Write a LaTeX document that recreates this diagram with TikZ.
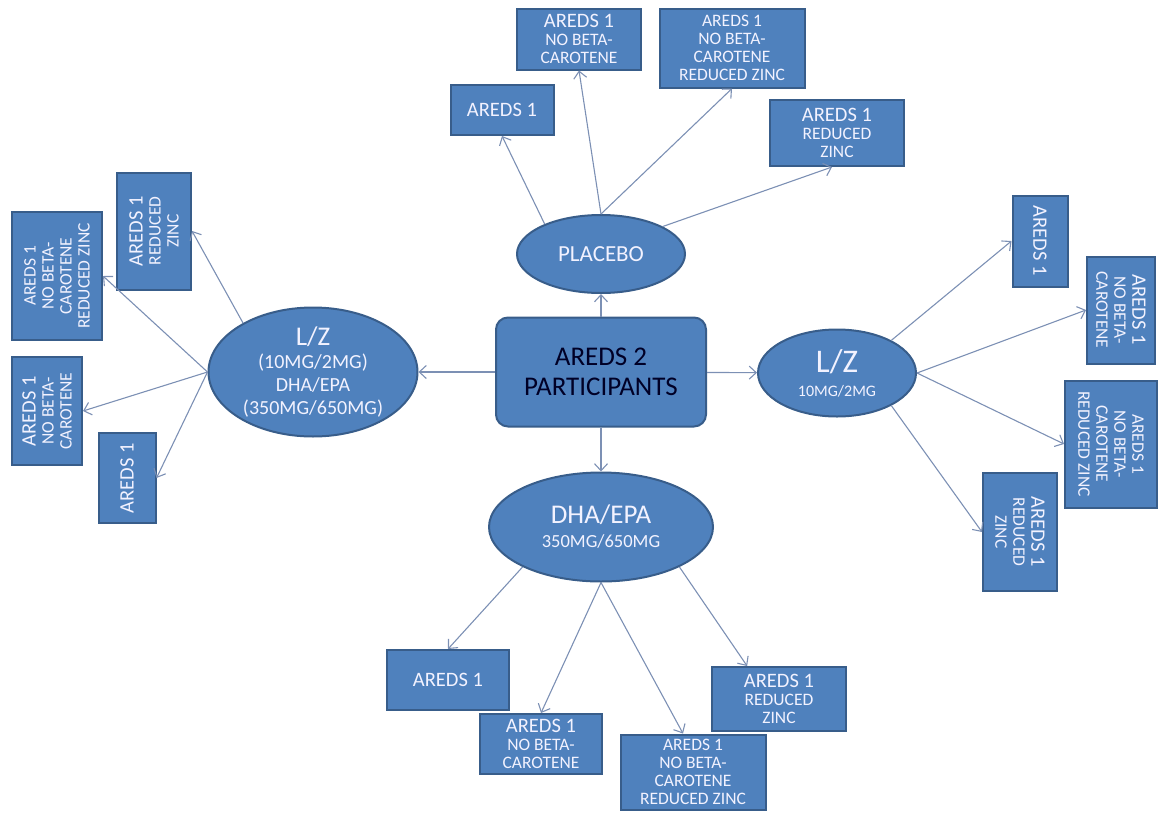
\documentclass[tikz,border=0pt]{standalone}
\usepackage{fontspec}
\setmainfont{Carlito}
\usetikzlibrary{arrows.meta,shapes.geometric}
\definecolor{boxblue}{HTML}{4F81BD}
\definecolor{boxedge}{HTML}{385D8A}
\definecolor{linkgray}{HTML}{7C90B4}
\tikzset{
  arm/.style={draw=boxedge, line width=2pt, fill=boxblue, text=white!95!blue,
    inner sep=0pt, align=center, font=\fontsize{17.5}{18}\selectfont},
  trial/.style={arm, ellipse},
  hub/.style={arm, rounded corners=12pt, text=black!85!blue},
  link/.style={draw=linkgray, line width=1.1pt, -{Straight Barb[length=7pt,width=13pt]}}
}
\newcommand{\firstline}[1]{{\fontsize{20.5}{20}\selectfont #1}}

\begin{document}
\begin{tikzpicture}[x=1pt,y=1pt]
			%%%%% START %%%%%
			\useasboundingbox (0,0) rectangle (1161,-814);
			
			% centre
			\node[hub, minimum width=210, minimum height=109, font=\fontsize{27}{30}\selectfont] (part) at (601,-372) {AREDS 2\\PARTICIPANTS};
			
			\node[trial, minimum width=168, minimum height=78, font=\fontsize{23}{22}\selectfont] (placebo) at (601,-254) {PLACEBO};
			\node[trial, minimum width=209, minimum height=129, font=\fontsize{20}{23}\selectfont] (lzdha) at (313,-372) {{\fontsize{27}{26}\selectfont L/Z}\\(10MG/2MG)\\DHA/EPA\\(350MG/650MG)};
			\node[trial, minimum width=158, minimum height=87, font=\fontsize{16}{24}\selectfont] (lz) at (837,-373) {{\fontsize{33}{30}\selectfont L/Z}\\10MG/2MG};
			\node[trial, minimum width=224, minimum height=109, font=\fontsize{18.5}{24}\selectfont] (dha) at (601,-527) {{\fontsize{27}{25}\selectfont DHA/EPA}\\350MG/650MG};
			
			\draw[link] (part) -- (placebo);
			\draw[link] (part) -- (lzdha);
			\draw[link] (part) -- (lz);
			\draw[link] (part) -- (dha);
			
			% placebo arm
			\node[arm, minimum width=103, minimum height=50] (pa) at (502,-110) {\firstline{AREDS 1}};
			\node[arm, minimum width=124, minimum height=61] (pb) at (579,-39) {\firstline{AREDS 1}\\NO BETA-\\CAROTENE};
			\node[arm, minimum width=145, minimum height=79] (pc) at (732,-48) {AREDS 1\\NO BETA-\\CAROTENE\\REDUCED ZINC};
			\node[arm, minimum width=134, minimum height=66] (pd) at (837,-133) {\firstline{AREDS 1}\\REDUCED\\ZINC};
			
			\draw[link] (placebo.152) -- (pa.south);
			\draw[link] (placebo.north) -- (pb.south);
			\draw[link] (placebo.north) -- (pc.south);
			\draw[link] (placebo.24) -- ([xshift=-5pt]pd.south);
			
			% L/Z + DHA/EPA arm
			\node[arm, rotate=90, minimum width=117, minimum height=74] (la) at (154,-231) {\firstline{AREDS 1}\\REDUCED\\ZINC};
			\node[arm, rotate=90, minimum width=128, minimum height=90] (lb) at (57,-276) {AREDS 1\\NO BETA-\\CAROTENE\\REDUCED ZINC};
			\node[arm, rotate=90, minimum width=108, minimum height=70] (lc) at (47,-411) {\firstline{AREDS 1}\\NO BETA-\\CAROTENE};
			\node[arm, rotate=90, minimum width=90, minimum height=57] (ld) at (127,-478) {\firstline{AREDS 1}};
			
			\draw[link] (lzdha.145) -- (la.south);
			\draw[link] (lzdha.west) -- (lb.south);
			\draw[link] (lzdha.west) -- (lc.south);
			\draw[link] (lzdha.west) -- (ld.south);
			
			% L/Z arm
			\node[arm, rotate=-90, minimum width=91, minimum height=55] (ra) at (1040,-241) {\firstline{AREDS 1}};
			\node[arm, rotate=-90, minimum width=107, minimum height=68] (rb) at (1121,-310) {\firstline{AREDS 1}\\NO BETA-\\CAROTENE};
			\node[arm, rotate=-90, minimum width=127, minimum height=92] (rc) at (1111,-444) {AREDS 1\\NO BETA-\\CAROTENE\\REDUCED ZINC};
			\node[arm, rotate=-90, minimum width=118, minimum height=74] (rd) at (1020,-532) {\firstline{AREDS 1}\\REDUCED\\ZINC};
			
			\draw[link] (lz.31) -- (ra.south);
			\draw[link] (lz.east) -- (rb.south);
			\draw[link] (lz.east) -- (rc.south);
			\draw[link] (lz.-31) -- (rd.south);
			
			% DHA/EPA arm
			\node[arm, minimum width=122, minimum height=60] (da) at (448,-680) {\firstline{AREDS 1}};
			\node[arm, minimum width=122, minimum height=60] (db) at (541,-744) {\firstline{AREDS 1}\\NO BETA-\\CAROTENE};
			\node[arm, minimum width=145, minimum height=75] (dc) at (693,-772) {AREDS 1\\NO BETA-\\CAROTENE\\REDUCED ZINC};
			\node[arm, minimum width=134, minimum height=64] (dd) at (779,-699) {\firstline{AREDS 1}\\REDUCED\\ZINC};
			
			\draw[link] (dha.207) -- (da.north);
			\draw[link] (dha.south) -- (db.north);
			\draw[link] (dha.south) -- ([xshift=-10pt]dc.north);
			\draw[link] (dha.-27) -- (dd.134);
			
			%%%%% END %%%%%
\end{tikzpicture}
\end{document}
